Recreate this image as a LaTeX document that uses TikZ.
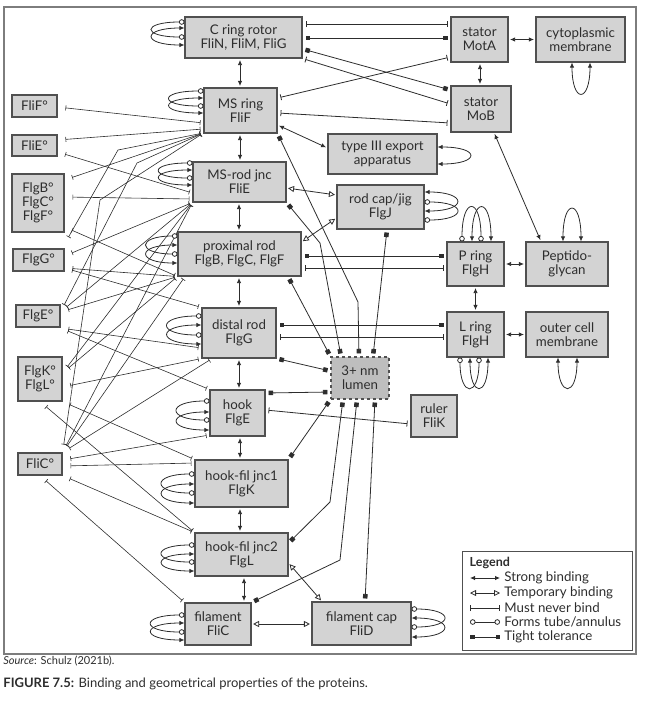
\documentclass[tikz,border=0pt]{standalone}
\usepackage{fontspec}
\setmainfont{Lato}
\usetikzlibrary{arrows.meta, calc}
\definecolor{boxfill}{RGB}{211,211,211}
\definecolor{boxline}{RGB}{80,80,80}
\definecolor{lumenfill}{RGB}{190,190,190}
\definecolor{inkgray}{RGB}{45,45,45}
\definecolor{framegray}{RGB}{125,125,125}

\tikzset{
  box/.style 2 args={draw=boxline, fill=boxfill, line width=1.1pt, inner sep=0pt,
    minimum width=#1, minimum height=#2, align=center, text=inkgray,
    font=\fontsize{13.3}{14}\selectfont},
  bstrong/.style={{Latex[length=5pt,width=4.5pt]}-{Latex[length=5pt,width=4.5pt]}, shorten <=1.5pt, shorten >=1.5pt},
  btemp/.style={{Triangle[open,length=6pt,width=6pt]}-{Triangle[open,length=6pt,width=6pt]}, shorten <=1.5pt, shorten >=1.5pt},
  bnever/.style={{Bar[width=6pt]}-{Bar[width=6pt]}, shorten <=3pt, shorten >=3pt},
  btight/.style={{Square[length=4.5pt,width=4.5pt]}-{Square[length=4.5pt,width=4.5pt]}, shorten <=3pt, shorten >=3pt},
  btube/.style={{Circle[open,length=5.5pt,width=5.5pt,fill=white]}-{Circle[open,length=5.5pt,width=5.5pt,fill=white]}},
  bnl/.style={{Bar[width=5pt]}-{Bar[width=5pt]}, line width=0.6pt, shorten <=8pt, shorten >=3pt},
}

\begin{document}
\begin{tikzpicture}[x=1pt, y=-1pt, line width=0.8pt, draw=inkgray]
\useasboundingbox (0,0) rectangle (657,707);
\draw[framegray, line width=1.3pt] (4,7) rectangle (636,654);

% structures
\node[box={117pt}{41pt}] (crot) at (243.5,37.5) {C ring rotor\\FliN, FliM, FliG};
\node[box={57pt}{45pt}] (motA) at (479.5,39.5) {stator\\MotA};
\node[box={89pt}{45pt}] (cyto) at (580.5,39.5) {cytoplasmic\\membrane};
\node[box={60pt}{46pt}] (mob) at (481,109) {stator\\MoB};
\node[box={73pt}{45pt}] (msring) at (240.5,110.5) {MS ring\\FliF};
\node[box={93pt}{40pt}] (msrod) at (239.5,182) {MS-rod jnc\\FliE};
\node[box={109pt}{40pt}] (t3) at (382.5,154) {type III export\\apparatus};
\node[box={87pt}{44pt}] (rodcap) at (380.5,207) {rod cap/jig\\FlgJ};
\node[box={123pt}{44pt}] (prox) at (239.5,254) {proximal rod\\FlgB, FlgC, FlgF};
\node[box={74pt}{50pt}] (distal) at (239,333) {distal rod\\FlgG};
\node[box={55pt}{46pt}] (hook) at (237.5,413) {hook\\FlgE};
\node[box={93pt}{47pt}] (jnc1) at (241.5,483.5) {hook-fil jnc1\\FlgK};
\node[box={93pt}{43pt}] (jnc2) at (241.5,554.5) {hook-fil jnc2\\FlgL};
\node[box={66pt}{42pt}] (fil) at (218,624) {filament\\FliC};
\node[box={99pt}{43pt}] (filcap) at (361.5,623.5) {filament cap\\FliD};
\node[box={58pt}{42pt}, fill=lumenfill, dashed] (lumen) at (360,378) {3+ nm\\lumen};
\node[box={46pt}{42pt}] (ruler) at (434,416) {ruler\\FliK};
\node[box={57pt}{44pt}] (pring) at (475.5,264) {P ring\\FlgH};
\node[box={82pt}{44pt}] (pepg) at (567,264) {Peptido-\\glycan};
\node[box={57pt}{45pt}] (lring) at (475.5,334.5) {L ring\\FlgH};
\node[box={82pt}{45pt}] (ocm) at (567,334.5) {outer cell\\membrane};

% monomers
\node[box={45pt}{22pt}] (flif) at (34.5,106) {FliF°};
\node[box={45pt}{21pt}] (flie) at (34.5,145.5) {FliE°};
\node[box={52pt}{58pt}] (flgb) at (38,203) {FlgB°\\FlgC°\\FlgF°};
\node[box={51pt}{22pt}] (flgg) at (38.5,260) {FlgG°};
\node[box={44pt}{22pt}] (flge) at (38,316) {FlgE°};
\node[box={44pt}{44pt}] (flgk) at (40,379) {FlgK°\\FlgL°};
\node[box={44pt}{22pt}] (flic) at (40,464) {FliC°};

% strong binding
\draw[bstrong] (crot.south -| 240,0) -- (msring.north -| 240,0);
\draw[bstrong] (msring.south -| 240,0) -- (msrod.north -| 240,0);
\draw[bstrong] (msrod.south -| 239,0) -- (prox.north -| 239,0);
\draw[bstrong] (prox.south -| 239,0) -- (distal.north -| 239,0);
\draw[bstrong] (distal.south -| 239,0) -- (hook.north -| 239,0);
\draw[bstrong] (hook.south -| 240,0) -- (jnc1.north -| 240,0);
\draw[bstrong] (jnc1.south -| 240,0) -- (jnc2.north -| 240,0);
\draw[bstrong] (jnc2.south -| 244,0) -- (fil.north -| 244,0);
\draw[bstrong] (motA.east) -- (cyto.west);
\draw[bstrong] (motA.south -| 480,0) -- (mob.north -| 480,0);
\draw[bstrong] (msring.east |- 0,125) -- (t3.west |- 0,148);
\draw[bstrong] (mob.south -| 494,0) -- (pepg.north -| 541,0);
\draw[bstrong] (pring.east) -- (pepg.west);
\draw[bstrong] (pring.south) -- (lring.north);
\draw[bstrong] (lring.east) -- (ocm.west);

% temporary binding
\draw[btemp] (msrod.east |- 0,188) -- (rodcap.west |- 0,195);
\draw[btemp] (prox.east |- 0,242) -- (rodcap.west |- 0,218);
\draw[btemp] (jnc2.east |- 0,563) -- (filcap.north -| 322,0);
\draw[btemp] (fil.east) -- (filcap.west |- fil.east);

% must never bind
\draw[bnever] (crot.east |- 0,24) -- (motA.west |- 0,24);
\draw[bnever] (crot.south east) -- (mob.west |- 0,104);
\draw[bnever] (msring.east |- 0,98) -- (motA.west |- 0,57);
\draw[bnever] (msring.east |- 0,113) -- (mob.west |- 0,123);
\draw[bnever] (prox.east |- 0,268) -- (pring.west |- 0,268);
\draw[bnever] (distal.east |- 0,337) -- (lring.west |- 0,337);
\draw[bnever] (hook.east |- 0,410) -- (ruler.west |- 0,424);

% tight tolerance
\draw[btight] (crot.east |- 0,38) -- (motA.west |- 0,38);
\draw[btight] (crot.east |- 0,49) -- (mob.west |- 0,90);
\draw[btight] (prox.east |- 0,256) -- (pring.west |- 0,256);
\draw[btight] (distal.east |- 0,325) -- (lring.west |- 0,325);
\draw[btight] (msring.south east) -- (358,302) -- (lumen.north -| 359,0);
\draw[btight] (msrod.south east) -- (320,243) -- (lumen.north -| 341,0);
\draw[btight] (prox.south -| 288,0) -- (lumen.north west);
\draw[btight] (rodcap.south -| 387,0) -- (lumen.north -| 373,0);
\draw[btight] (distal.south east) -- (lumen.west |- 0,371);
\draw[btight] (hook.east |- 0,393) -- (lumen.west |- 0,392);
\draw[btight] (lumen.south west) -- (jnc1.north east);
\draw[btight] (lumen.south -| 343,0) -- (330,502) -- (jnc2.east |- 0,543);
\draw[btight] (lumen.south -| 357,0) -- (340,560) -- (fil.north east);
\draw[btight] (lumen.south -| 375,0) -- (filcap.north -| 365,0);

% monomers must never bind
\draw[bnl] (flif.east |- 0,107) -- (msring.west |- 0,123);
\draw[bnl] (flie.east |- 0,140) -- (msring.west |- 0,129);
\draw[bnl] (flie.east |- 0,152) -- (msrod.west |- 0,193);
\draw[bnl] (flgb.east |- 0,180) -- (msring.west |- 0,133);
\draw[bnl] (flgb.east |- 0,197) -- (msrod.west |- 0,199);
\draw[bnl] (flgb.east |- 0,227) -- (prox.south west);
\draw[bnl] (flgg.east |- 0,244) -- (118,150) -- (msring.west |- 0,133);
\draw[bnl] (flgg.east |- 0,256) -- (msrod.south west);
\draw[bnl] (flgg.east |- 0,268) -- (prox.south west);
\draw[bnl] (flgg.east |- 0,268) -- (distal.north west);
\draw[bnl] (flge.east |- 0,312) -- (137,163) -- (msring.west |- 0,133);
\draw[bnl] (flge.east |- 0,312) -- (msrod.south west);
\draw[bnl] (flge.east |- 0,312) -- (prox.south west);
\draw[bnl] (flge.east |- 0,328) -- (distal.west |- 0,348);
\draw[bnl] (flge.east |- 0,328) -- (hook.north west);
\draw[bnl] (flgk.east |- 0,373) -- (msrod.south west);
\draw[bnl] (flgk.east |- 0,373) -- (prox.south west);
\draw[bnl] (flgk.east |- 0,387) -- (distal.south west);
\draw[bnl] (flgk.south east) -- (jnc1.north west);
\draw[bnl] (flgk.south) -- (jnc2.north west);
\draw[bnl] (flic.north east) -- (100,200) -- (msring.west |- 0,133);
\draw[bnl] (flic.north east) -- (msrod.south west);
\draw[bnl] (flic.north east) -- (prox.south -| 185,0);
\draw[bnl] (flic.north east) -- (distal.south -| 212,0);
\draw[bnl] (flic.east |- 0,460) -- (hook.west |- 0,435);
\draw[bnl] (flic.east |- 0,466) -- (jnc1.west |- 0,463);
\draw[bnl] (flic.south east) -- (jnc2.north west);
\draw[bnl] (flic.south) -- (fil.north west);

% self loops, left side
\foreach \nd/\ya/\yb/\yc/\yd/\d in {crot/22/28/37/45/43, msring/91/98/106/113/45,
    msrod/163/170/178/185/44, prox/236/245/254/263/41, distal/316/325/335/344/45,
    hook/401/412/420/430/43, jnc1/474/484/493/503/43, jnc2/545/554/562/571/43,
    fil/615/623/632/640/44} {
  \draw[bstrong, shorten <=0pt, shorten >=0pt] (\nd.west |- 0,\yb) .. controls +(-\d,0) and +(-\d,0) .. (\nd.west |- 0,\yd);
  \draw[btube] (\nd.west |- 0,\ya) .. controls +(-\d,0) and +(-\d,0) .. (\nd.west |- 0,\yc);
}
% self loops, right side
\foreach \nd/\ya/\yb/\yc/\yd/\d in {filcap/609/618/627/637/43, rodcap/202/192/220/211/43} {
  \draw[bstrong, shorten <=0pt, shorten >=0pt] (\nd.east |- 0,\yb) .. controls +(\d,0) and +(\d,0) .. (\nd.east |- 0,\yd);
  \draw[btube] (\nd.east |- 0,\ya) .. controls +(\d,0) and +(\d,0) .. (\nd.east |- 0,\yc);
}
\draw[bstrong, shorten <=0pt, shorten >=0pt] (t3.east |- 0,147) .. controls +(43,0) and +(43,0) .. (t3.east |- 0,164);
% self loops, top and bottom
\draw[bstrong, shorten <=0pt, shorten >=0pt] (pring.north -| 472,0) .. controls +(0,-45) and +(0,-45) .. (pring.north -| 491,0);
\draw[btube] (pring.north -| 462,0) .. controls +(0,-45) and +(0,-45) .. (pring.north -| 481,0);
\draw[bstrong, shorten <=0pt, shorten >=0pt] (lring.south -| 470,0) .. controls +(0,40) and +(0,40) .. (lring.south -| 488,0);
\draw[btube] (lring.south -| 460,0) .. controls +(0,40) and +(0,40) .. (lring.south -| 479,0);
\draw[bstrong, shorten <=0pt, shorten >=0pt] (cyto.south -| 572,0) .. controls +(0,41) and +(0,41) .. (cyto.south -| 590,0);
\draw[bstrong, shorten <=0pt, shorten >=0pt] (pepg.north -| 563,0) .. controls +(0,-43) and +(0,-43) .. (pepg.north -| 581,0);
\draw[bstrong, shorten <=0pt, shorten >=0pt] (ocm.south -| 558,0) .. controls +(0,40) and +(0,40) .. (ocm.south -| 577,0);

% legend
\draw[boxline, line width=1pt] (462,551) rectangle (632,650);
\node[anchor=west, text=inkgray, font=\bfseries\fontsize{12.5}{13}\selectfont] (leghead) at (466,563) {Legend};
\foreach \yy/\sty/\txt in {578/bstrong/Strong binding, 593/btemp/Temporary binding,
    608/bnever/Must never bind, 622/btube/{Forms tube/annulus}, 637/btight/Tight tolerance} {
  \draw[\sty, shorten <=0pt, shorten >=0pt] (470,\yy) -- (500,\yy)
    node[anchor=west, inner sep=0pt, xshift=4pt, text=inkgray, font=\fontsize{13.3}{14}\selectfont] (leg\yy) {\txt};
}

% caption
\node[anchor=west, inner sep=0pt, text=inkgray, font=\fontsize{11}{12}\selectfont] (src) at (3,661) {\textit{Source}: Schulz (2021b).};
\node[anchor=west, inner sep=0pt, text=inkgray, font=\fontsize{13}{14}\selectfont] (cap) at (3,684) {\textbf{FIGURE 7.5:} Binding and geometrical properties of the proteins.};
\end{tikzpicture}
\end{document}
